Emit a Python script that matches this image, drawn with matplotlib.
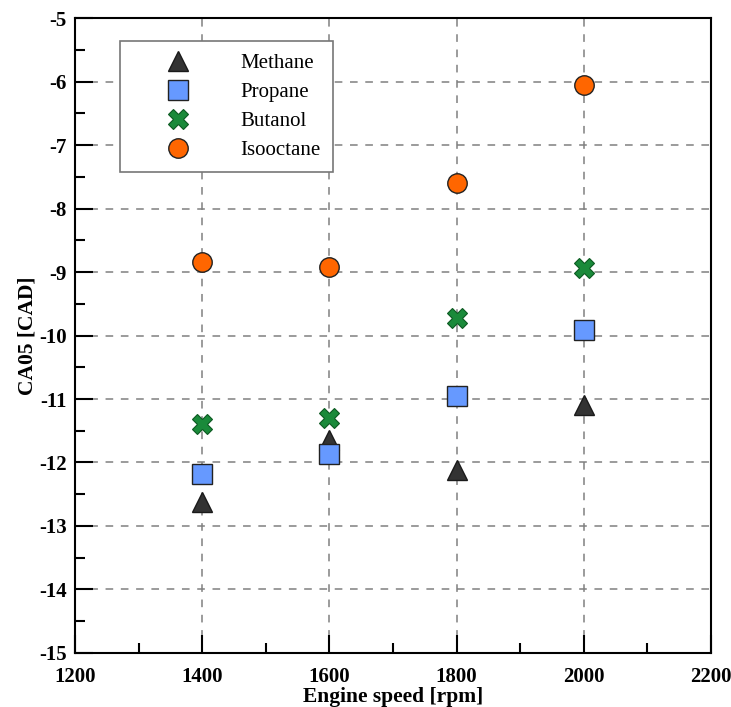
import matplotlib.pyplot as plt
from matplotlib.ticker import MultipleLocator

speed = [1400, 1600, 1800, 2000]
methane = [-12.62, -11.65, -12.12, -11.10]
propane = [-12.18, -11.87, -10.95, -9.91]
butanol = [-11.39, -11.30, -9.72, -8.94]
isooctane = [-8.84, -8.92, -7.60, -6.06]

plt.rcParams['font.family'] = 'Liberation Serif'
plt.rcParams['axes.unicode_minus'] = False

fig = plt.figure(figsize=(7.31, 7.07), dpi=100)
ax = fig.add_axes([0.1026, 0.0764, 0.87, 0.8981])

ax.plot(speed, methane, linestyle='none', marker='^', markersize=15,
        markerfacecolor='#333333', markeredgecolor='#1a1a1a', label='Methane')
ax.plot(speed, propane, linestyle='none', marker='s', markersize=14,
        markerfacecolor='#6699ff', markeredgecolor='#222222', label='Propane')
ax.plot(speed, butanol, linestyle='none', marker='X', markersize=15,
        markerfacecolor='#1a8a3a', markeredgecolor='#0d5a22', markeredgewidth=0.8,
        label='Butanol')
ax.plot(speed, isooctane, linestyle='none', marker='o', markersize=14,
        markerfacecolor='#ff6600', markeredgecolor='#222222', label='Isooctane')

ax.set_xlim(1200, 2200)
ax.set_ylim(-15, -5)
ax.xaxis.set_major_locator(MultipleLocator(200))
ax.xaxis.set_minor_locator(MultipleLocator(100))
ax.yaxis.set_major_locator(MultipleLocator(1))
ax.yaxis.set_minor_locator(MultipleLocator(0.5))
ax.tick_params(which='major', direction='in', length=13, width=1.5,
               labelsize=15, top=False, right=False)
ax.tick_params(axis='x', which='major', pad=10)
ax.tick_params(axis='y', which='major', pad=6)
ax.tick_params(which='minor', direction='in', length=7, width=1.5,
               top=False, right=False)
for lab in ax.get_xticklabels() + ax.get_yticklabels():
    lab.set_fontweight('bold')
for sp in ax.spines.values():
    sp.set_linewidth(1.5)
ax.grid(True, which='major', color='#808080', linestyle=(0, (5, 5)), linewidth=1.1)
ax.set_axisbelow(True)

ax.set_xlabel('Engine speed [rpm]', fontsize=15.5, fontweight='bold', labelpad=0)
ax.set_ylabel('CA05 [CAD]', fontsize=15.5, fontweight='bold', labelpad=1)

leg = ax.legend(loc='upper left', bbox_to_anchor=(0.071, 0.964), borderaxespad=0,
                fontsize=15, fancybox=False, framealpha=1, edgecolor='#777777',
                handlelength=4.4, handletextpad=0.75, borderpad=0.6, labelspacing=0.45)
leg.get_frame().set_linewidth(1.2)

fig.savefig('out.png', dpi=100)
